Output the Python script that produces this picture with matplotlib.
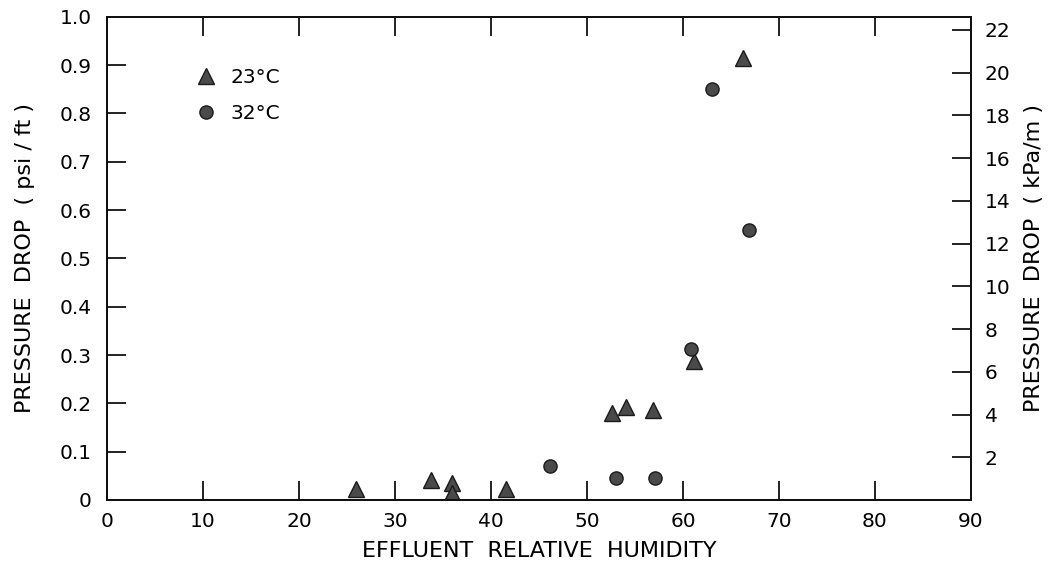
import matplotlib
matplotlib.use("Agg")
import matplotlib.pyplot as plt

# 23 C series (triangles)
rh_23 = [25.9, 33.8, 35.9, 35.9, 41.6, 52.6, 54.1, 56.9, 61.1, 66.3]
dp_23 = [0.023, 0.041, 0.036, 0.014, 0.023, 0.180, 0.193, 0.187, 0.288, 0.914]

# 32 C series (circles)
rh_32 = [46.1, 53.0, 57.1, 60.8, 63.0, 66.9]
dp_32 = [0.071, 0.046, 0.046, 0.313, 0.850, 0.559]

x_ticks = [0, 10, 20, 30, 40, 50, 60, 70, 80, 90]
y_ticks = [0, 0.1, 0.2, 0.3, 0.4, 0.5, 0.6, 0.7, 0.8, 0.9, 1.0]
y_labels = ["0", "0.1", "0.2", "0.3", "0.4", "0.5", "0.6", "0.7", "0.8", "0.9", "1.0"]
kpa_ticks = [2, 4, 6, 8, 10, 12, 14, 16, 18, 20, 22]
psi_ft_to_kpa_m = 22.62

plt.rcParams['font.family'] = ['DejaVu Sans']

fig = plt.figure(figsize=(10.53, 5.67), dpi=100)
ax = fig.add_axes([0.1016, 0.1182, 0.8205, 0.8523])

ax.plot(rh_23, dp_23, ls="none", marker="^", ms=11, mfc="#4a4a4a", mec="#1a1a1a",
        mew=1.0, label="23°C")
ax.plot(rh_32, dp_32, ls="none", marker="o", ms=9.5, mfc="#4a4a4a", mec="#1a1a1a",
        mew=1.0, label="32°C")

ax.set_xlim(0, 90)
ax.set_ylim(0, 1.0)
ax.set_xticks(x_ticks)
ax.set_yticks(y_ticks)
ax.set_yticklabels(y_labels)
ax.tick_params(axis="both", direction="in", length=14, width=1.3, labelsize=14.5,
               color="#111111")
ax.tick_params(axis="y", pad=11)
ax.tick_params(axis="x", pad=9)
ax.tick_params(axis="x", top=True, labeltop=False)
for s in ax.spines.values():
    s.set_linewidth(1.4)
    s.set_color("#111111")

ax.set_xlabel("EFFLUENT  RELATIVE  HUMIDITY", fontsize=16, labelpad=7)
ax.set_ylabel("PRESSURE  DROP  ( psi / ft )", fontsize=16, labelpad=18)

ax2 = ax.twinx()
ax2.set_ylim(0, 1.0 * psi_ft_to_kpa_m)
ax2.set_yticks(kpa_ticks)
ax2.tick_params(axis="y", direction="in", length=14, width=1.3, labelsize=14.5,
                pad=10, color="#111111")
ax2.set_ylabel("PRESSURE  DROP  ( kPa/m )", fontsize=16, labelpad=10)
for s in ax2.spines.values():
    s.set_linewidth(1.4)
    s.set_color("#111111")

ax.legend(loc="upper left", bbox_to_anchor=(0.103, 0.894), frameon=False,
          fontsize=14.5, handlelength=1.0, handletextpad=0.7, labelspacing=0.85,
          borderaxespad=0, borderpad=0)

fig.savefig("out.png", dpi=100)
